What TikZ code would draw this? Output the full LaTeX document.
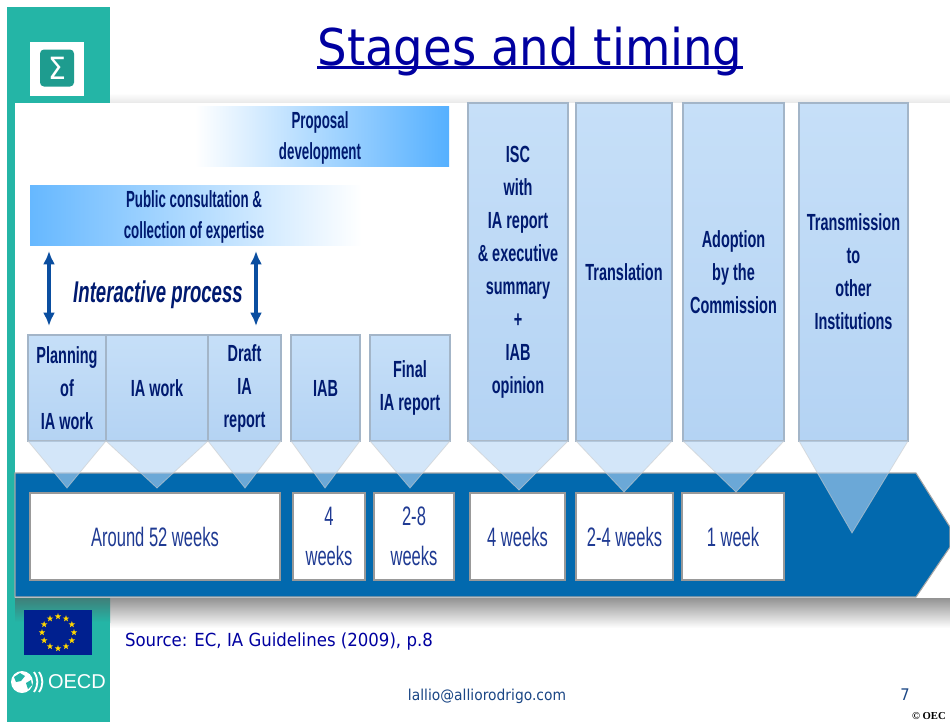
\documentclass[tikz,border=0pt]{standalone}
\usepackage[svgnames]{xcolor}
\usepackage{fontspec}
\usepackage{tikz}
\usetikzlibrary{arrows.meta,shapes.geometric}
\newfontfamily\boxfont[FakeStretch=0.62]{Liberation Sans}
\newfontfamily\barfont[FakeStretch=0.57]{Liberation Sans}
\newfontfamily\slidefont[FakeStretch=0.92]{DejaVu Sans}
\newfontfamily\creditfont{Liberation Serif}
\definecolor{slideteal}{HTML}{24B5A6}
\definecolor{darkteal}{HTML}{1E9C8F}
\definecolor{shadowteal}{HTML}{3F7F79}
\definecolor{bandblue}{HTML}{0269AE}
\definecolor{boxtop}{HTML}{C6DFF8}
\definecolor{boxbottom}{HTML}{B4D3F3}
\definecolor{boxedge}{HTML}{A3B5C8}
\definecolor{pointerblue}{HTML}{B5D5F5}
\definecolor{barblue}{HTML}{55B0FF}
\definecolor{boxnavy}{HTML}{001A70}
\definecolor{weeknavy}{HTML}{1F3A93}
\definecolor{titleblue}{HTML}{0000A0}
\definecolor{mailblue}{HTML}{1A4685}
\definecolor{flagblue}{HTML}{00208F}
\definecolor{linkblue}{HTML}{0A4EA0}
\newcommand{\px}{0.75pt}
\newcommand{\titleline}[1]{\setbox0=\hbox{#1}\rlap{\rule[-3pt]{\wd0}{2.2pt}}\box0}

\begin{document}
\begin{tikzpicture}[x=0.75pt,y=-0.75pt,
        every node/.append style={inner sep=0pt,outer sep=0pt},
        link/.style={{Latex[length=10pt,width=9pt]}-{Latex[length=10pt,width=9pt]}, line width=2.3pt, color=linkblue}]
      \tikzstyle{stagebox} = [draw=boxedge, line width=1pt, shade, top color=boxtop, bottom color=boxbottom, align=center, text=boxnavy, font=\boxfont\bfseries\fontsize{17.5}{24.75}\selectfont]
      \tikzstyle{weekbox} = [draw=gray!80, line width=1.2pt, fill=white, align=center, text=weeknavy, font=\boxfont\fontsize{20}{30}\selectfont, minimum height=87*\px]
      \tikzstyle{pointer} = [draw=gray!40, fill=pointerblue, fill opacity=0.59, draw opacity=0.6, line width=0.6pt]
      \tikzstyle{bartext} = [align=center, text=boxnavy, font=\barfont\bfseries\fontsize{17.5}{23.25}\selectfont, minimum height=60*\px]
      \tikzstyle{flagstar} = [star, star points=5, star point ratio=2.4, fill=Gold, minimum size=5pt]
      \useasboundingbox (0,0) rectangle (950,722);
      \fill[white] (0,0) rectangle (950,722);
      \fill[slideteal] (7,7) rectangle (110,722);
      \shade[top color=white, bottom color=gray!18] (110,93) rectangle (950,103);
      \fill[white] (15,103) rectangle (950,598);
      \shade[top color=gray!85, bottom color=white] (110,598) rectangle (950,628);
      \shade[top color=shadowteal, bottom color=slideteal] (15,598) rectangle (110,622);

      \node (logo) [fill=white, minimum size=54*\px] at (57,69) {};
      \node (sigma) [fill=darkteal, rounded corners=3pt, minimum width=34*\px, minimum height=37*\px, text=white, font=\slidefont\fontsize{23}{23}\selectfont] at (57,68) {Σ};
      \node (title) [text=titleblue, font=\slidefont\fontsize{38}{40}\selectfont, anchor=base] at (530,65) {\titleline{Stages and timing}};

      \node (proposal) [bartext, shade, left color=white, right color=barblue, minimum width=254*\px] at (322,136) {};
      \node (proposaltext) [bartext] at (320,138) {Proposal\\development};
      \node (public) [bartext, shade, left color=barblue!90!white, right color=white, minimum width=332*\px] at (196,215) {};
      \node (publictext) [bartext] at (194,217) {Public consultation \&\\collection of expertise};
      \node (process) [text=boxnavy, font=\boxfont\bfseries\itshape\fontsize{22.5}{23}\selectfont] at (158,295) {Interactive process};

      \draw[fill=bandblue, draw=gray!70, line width=0.8pt] (15,473) -- (916,473) -- (950,527) -- (950,547) -- (916,597) -- (15,597) -- cycle;

      \node (planning) [stagebox, minimum width=78*\px, minimum height=106*\px] at (67,388) {Planning\\of\\IA work};
      \node (iawork) [stagebox, minimum width=102*\px, minimum height=106*\px] at (157,388) {IA work};
      \node (draft) [stagebox, minimum width=73*\px, minimum height=106*\px] at (244.5,388) {Draft\\IA\\report};
      \node (iab) [stagebox, minimum width=69*\px, minimum height=106*\px] at (325.5,388) {IAB};
      \node (final) [stagebox, minimum width=80*\px, minimum height=106*\px] at (410,388) {Final\\IA report};
      \node (isc) [stagebox, minimum width=100*\px, minimum height=338*\px] at (518,272) {ISC\\with\\IA report\\\& executive\\summary\\+\\IAB\\opinion};
      \node (translation) [stagebox, minimum width=96*\px, minimum height=338*\px] at (624,272) {Translation};
      \node (adoption) [stagebox, minimum width=101*\px, minimum height=338*\px] at (733.5,272) {Adoption\\by the\\Commission};
      \node (transmission) [stagebox, minimum width=109*\px, minimum height=338*\px] at (853.5,272) {Transmission\\to\\other\\Institutions};

      \node (around) [weekbox, minimum width=250*\px] at (155,536.5) {Around 52 weeks};
      \node (fourb) [weekbox, minimum width=72*\px] at (329,536.5) {4\\weeks};
      \node (twoeight) [weekbox, minimum width=80*\px] at (414,536.5) {2-8\\weeks};
      \node (fourc) [weekbox, minimum width=95*\px] at (517.5,536.5) {4 weeks};
      \node (twofour) [weekbox, minimum width=97*\px] at (624.5,536.5) {2-4 weeks};
      \node (oneweek) [weekbox, minimum width=102*\px] at (733,536.5) {1 week};

      \foreach \stage/\tipx/\tipy in {planning/67/488,iawork/157/488,draft/245/488,iab/325/488,final/410/488,isc/519/490,translation/624/492,adoption/736/492,transmission/852/533}
        \draw[pointer] (\stage.south west) -- (\tipx,\tipy) -- (\stage.south east) -- cycle;

      \coordinate (linkatop) at (49,251);
      \coordinate (linkabottom) at (49,326);
      \coordinate (linkbtop) at (256,251);
      \coordinate (linkbbottom) at (256,326);
      \draw[link] (linkatop) -- (linkabottom);
      \draw[link] (linkbtop) -- (linkbbottom);

      \node (flag) [fill=flagblue, minimum width=68*\px, minimum height=45*\px] at (58,632.5) {};
      \foreach \a in {0,30,...,330}
        \node (star\a) [flagstar] at ([shift={(\a:16)}] 58,632.5) {};
      \node (globe) [circle, fill=white, minimum size=22*\px] at (22,682) {};
      \fill[slideteal] (14,677) -- (20,673) -- (25,676) -- (21,681) -- (16,682) -- cycle;
      \fill[slideteal] (26,683) -- (31,680) -- (32,685) -- (28,689) -- cycle;
      \draw[white, line width=1.4pt] (34,672) to[bend left=35] (34,692);
      \draw[white, line width=1.4pt] (39,672) to[bend left=35] (39,692);
      \node (oecd) [text=white, font=\fontspec{Liberation Sans}\fontsize{15}{15}\selectfont, anchor=west] at (48,682) {OECD};

      \node (source) [text=titleblue, font=\slidefont\fontsize{13.5}{15}\selectfont, anchor=base west] at (125,646) {Source: EC, IA Guidelines (2009), p.8};
      \node (mail) [text=mailblue, font=\slidefont\fontsize{11.3}{13}\selectfont, anchor=base] at (487,700) {lallio@alliorodrigo.com};
      \node (page) [text=mailblue, font=\slidefont\fontsize{12}{14}\selectfont, anchor=base] at (905,700) {7};
      \node (credit) [font=\creditfont\bfseries\fontsize{8}{9}\selectfont, anchor=base west] at (912,719) {© OEC};
    \end{tikzpicture}
\end{document}
